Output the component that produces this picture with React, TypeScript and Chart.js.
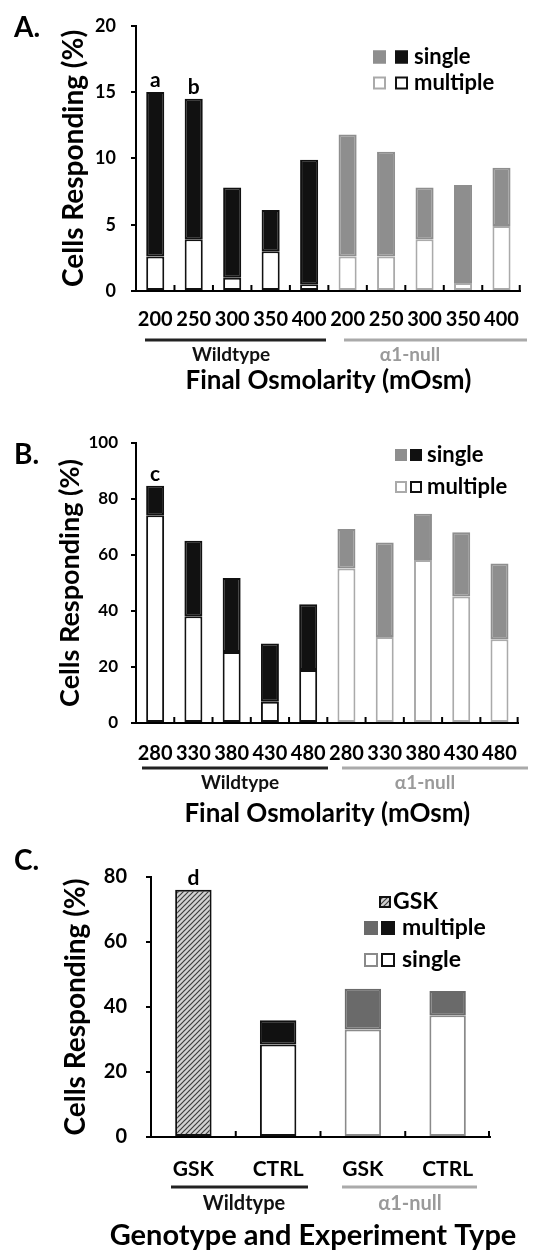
import React, { useEffect, useRef } from "react";
import { Chart, registerables } from "chart.js";

Chart.register(...registerables);

const FONT = "Lato, 'Open Sans', 'DejaVu Sans', sans-serif";

const BLACK = "#111111";
const GRAY = "#8e8e8e";
const LIGHT_GRAY = "#aaaaaa";
const DARK_GRAY = "#6a6a6a";
const WHITE = "#ffffff";

// ---------------- Data ----------------
const yTitleText = "Cells Responding (%)";

// Panel A
const aCategories = ["200", "250", "300", "350", "400", "200", "250", "300", "350", "400"];
const aSingle = [12.4, 10.6, 6.8, 3.1, 9.4, 9.2, 7.9, 3.9, 7.4, 4.4];
const aMultiple = [2.6, 3.9, 1.0, 3.0, 0.5, 2.6, 2.6, 3.9, 0.6, 4.9];
const aYMax = 20;
const aYStep = 5;
const aNotes = ["a", "b"];

// Panel B
const bCategories = ["280", "330", "380", "430", "480", "280", "330", "380", "430", "480"];
const bSingle = [10.5, 27.0, 26.4, 20.8, 23.5, 14.1, 33.8, 16.5, 22.9, 27.1];
const bMultiple = [74.2, 38.1, 25.4, 7.6, 18.9, 55.2, 30.7, 58.2, 45.2, 29.9];
const bYMax = 100;
const bYStep = 20;
const bNotes = ["c"];

// Panel C
const cCategories = ["GSK", "CTRL", "GSK", "CTRL"];
const cGsk = [76.1, null, null, null];
const cSingle = [null, 28.5, 33.1, 37.5];
const cMultiple = [null, 7.4, 12.5, 7.4];
const cYMax = 80;
const cYStep = 20;
const cNotes = ["d"];

const groupNames = ["Wildtype", "α1-null"];
const xTitleOsm = "Final Osmolarity (mOsm)";
const xTitleC = "Genotype and Experiment Type";

// ---------------- Helpers ----------------
function makePattern(ctx: CanvasRenderingContext2D): CanvasPattern | string {
  const pc = document.createElement("canvas");
  pc.width = 5;
  pc.height = 5;
  const p = pc.getContext("2d");
  if (!p) return GRAY;
  p.fillStyle = "#d2d2d2";
  p.fillRect(0, 0, 5, 5);
  p.strokeStyle = "#3c3c3c";
  p.lineWidth = 1.2;
  p.beginPath();
  p.moveTo(-1, 6);
  p.lineTo(6, -1);
  p.moveTo(-3.5, 3.5);
  p.lineTo(3.5, -3.5);
  p.moveTo(1.5, 8.5);
  p.lineTo(8.5, 1.5);
  p.stroke();
  return ctx.createPattern(pc, "repeat") || GRAY;
}

type Swatch = { x: number; size: number; fill: string; stroke: string; pattern?: boolean };
type LegendRow = { y: number; swatches: Swatch[]; textX: number; text: string };
type Group = { text: string; color: string; lineColor: string; x1: number; x2: number; lineY: number; labelX: number; labelY: number };

interface Panel {
  key: string;
  top: number;
  height: number;
  area: { left: number; right: number; top: number; bottom: number };
  categories: string[];
  makeDatasets: (pattern: CanvasPattern | string) => any[];
  yMax: number;
  yStep: number;
  yTickSize: number;
  yTickPad: number;
  yTitleSize: number;
  yTitleCenterX: number;
  xTickSize: number;
  xTickPad: number;
  xTitle: string;
  xTitleSize: number;
  xTitleFromBottom: number;
  xTitleFree?: { x: number; y: number };
  letter: { text: string; x: number; y: number };
  groups: Group[];
  groupFont: number;
  legendRows: LegendRow[];
  legendFont: number;
  notes: { dataset: number; index: number; text: string }[];
  noteFont: number;
}

const wtOrNull = (n: number, half: number, wt: string, nl: string) =>
  Array.from({ length: n }, (_, i) => (i < half ? wt : nl));

function osmDatasets(single: number[], multiple: number[], barPct: number) {
  const n = single.length;
  const half = n / 2;
  return [
    {
      label: "multiple",
      data: multiple,
      backgroundColor: WHITE,
      borderColor: wtOrNull(n, half, BLACK, LIGHT_GRAY),
      borderWidth: 2,
      borderSkipped: false,
      barPercentage: barPct,
      categoryPercentage: 1,
      stack: "s",
    },
    {
      label: "single",
      data: single,
      backgroundColor: wtOrNull(n, half, BLACK, GRAY),
      borderColor: wtOrNull(n, half, BLACK, GRAY),
      borderWidth: 2,
      borderSkipped: false,
      barPercentage: barPct,
      categoryPercentage: 1,
      stack: "s",
    },
  ];
}

const panelA: Panel = {
  key: "A",
  top: 0,
  height: 395,
  area: { left: 136, right: 534, top: 25, bottom: 291 },
  categories: aCategories,
  makeDatasets: () => osmDatasets(aSingle, aMultiple, 0.47),
  yMax: aYMax,
  yStep: aYStep,
  yTickSize: 18,
  yTickPad: 15,
  yTitleSize: 28,
  yTitleCenterX: 74,
  xTickSize: 20,
  xTickPad: 17,
  xTitle: xTitleOsm,
  xTitleSize: 26,
  xTitleFromBottom: 14,
  letter: { text: "A.", x: 14, y: 28 },
  groups: [
    { text: groupNames[0], color: "#111", lineColor: "#222", x1: 145, x2: 326, lineY: 340, labelX: 231, labelY: 355 },
    { text: groupNames[1], color: "#9a9a9a", lineColor: "#aaaaaa", x1: 344, x2: 527, lineY: 340, labelX: 410, labelY: 355 },
  ],
  groupFont: 19,
  legendRows: [
    {
      y: 57,
      swatches: [
        { x: 373, size: 13, fill: GRAY, stroke: GRAY },
        { x: 395, size: 13, fill: BLACK, stroke: BLACK },
      ],
      textX: 414,
      text: "single",
    },
    {
      y: 83,
      swatches: [
        { x: 373, size: 13, fill: WHITE, stroke: LIGHT_GRAY },
        { x: 395, size: 13, fill: WHITE, stroke: BLACK },
      ],
      textX: 414,
      text: "multiple",
    },
  ],
  legendFont: 22,
  notes: [
    { dataset: 1, index: 0, text: aNotes[0] },
    { dataset: 1, index: 1, text: aNotes[1] },
  ],
  noteFont: 21,
};

const panelB: Panel = {
  key: "B",
  top: 395,
  height: 435,
  area: { left: 136, right: 534, top: 48, bottom: 328 },
  categories: bCategories,
  makeDatasets: () => osmDatasets(bSingle, bMultiple, 0.47),
  yMax: bYMax,
  yStep: bYStep,
  yTickSize: 17,
  yTickPad: 13,
  yTitleSize: 27,
  yTitleCenterX: 70,
  xTickSize: 20,
  xTickPad: 19,
  xTitle: xTitleOsm,
  xTitleSize: 26,
  xTitleFromBottom: 16,
  letter: { text: "B.", x: 14, y: 60 },
  groups: [
    { text: groupNames[0], color: "#111", lineColor: "#222", x1: 142, x2: 328, lineY: 373, labelX: 240, labelY: 388 },
    { text: groupNames[1], color: "#9a9a9a", lineColor: "#aaaaaa", x1: 342, x2: 528, lineY: 373, labelX: 425, labelY: 388 },
  ],
  groupFont: 19,
  legendRows: [
    {
      y: 60,
      swatches: [
        { x: 395, size: 12, fill: GRAY, stroke: GRAY },
        { x: 410, size: 12, fill: BLACK, stroke: BLACK },
      ],
      textX: 427,
      text: "single",
    },
    {
      y: 92,
      swatches: [
        { x: 395, size: 12, fill: WHITE, stroke: LIGHT_GRAY },
        { x: 410, size: 12, fill: WHITE, stroke: BLACK },
      ],
      textX: 427,
      text: "multiple",
    },
  ],
  legendFont: 22,
  notes: [{ dataset: 1, index: 0, text: bNotes[0] }],
  noteFont: 21,
};

const panelC: Panel = {
  key: "C",
  top: 830,
  height: 423,
  area: { left: 151, right: 490, top: 47, bottom: 307 },
  categories: cCategories,
  makeDatasets: (pattern) => [
    {
      label: "GSK",
      data: cGsk,
      backgroundColor: pattern,
      borderColor: BLACK,
      borderWidth: 2,
      borderSkipped: false,
      barPercentage: 0.43,
      categoryPercentage: 1,
      stack: "s",
    },
    {
      label: "single",
      data: cSingle,
      backgroundColor: WHITE,
      borderColor: [BLACK, BLACK, "#8a8a8a", "#8a8a8a"],
      borderWidth: 2,
      borderSkipped: false,
      barPercentage: 0.43,
      categoryPercentage: 1,
      stack: "s",
    },
    {
      label: "multiple",
      data: cMultiple,
      backgroundColor: [BLACK, BLACK, DARK_GRAY, DARK_GRAY],
      borderColor: [BLACK, BLACK, DARK_GRAY, DARK_GRAY],
      borderWidth: 2,
      borderSkipped: false,
      barPercentage: 0.43,
      categoryPercentage: 1,
      stack: "s",
    },
  ],
  yMax: cYMax,
  yStep: cYStep,
  yTickSize: 20,
  yTickPad: 19,
  yTitleSize: 28,
  yTitleCenterX: 76,
  xTickSize: 21,
  xTickPad: 20,
  xTitle: xTitleC,
  xTitleSize: 29,
  xTitleFromBottom: 17,
  xTitleFree: { x: 313, y: 406 },
  letter: { text: "C.", x: 14, y: 31 },
  groups: [
    { text: groupNames[0], color: "#111", lineColor: "#222", x1: 171, x2: 308, lineY: 357, labelX: 244, labelY: 374 },
    { text: groupNames[1], color: "#9a9a9a", lineColor: "#aaaaaa", x1: 342, x2: 477, lineY: 357, labelX: 410, labelY: 374 },
  ],
  groupFont: 20,
  legendRows: [
    {
      y: 72,
      swatches: [{ x: 379, size: 12, fill: "", stroke: BLACK, pattern: true }],
      textX: 393,
      text: "GSK",
    },
    {
      y: 98,
      swatches: [
        { x: 364, size: 14, fill: DARK_GRAY, stroke: DARK_GRAY },
        { x: 381, size: 14, fill: BLACK, stroke: BLACK },
      ],
      textX: 402,
      text: "multiple",
    },
    {
      y: 130,
      swatches: [
        { x: 364, size: 14, fill: WHITE, stroke: "#8a8a8a" },
        { x: 381, size: 14, fill: WHITE, stroke: BLACK },
      ],
      textX: 402,
      text: "single",
    },
  ],
  legendFont: 23,
  notes: [{ dataset: 0, index: 0, text: cNotes[0] }],
  noteFont: 21,
};

const panels = [panelA, panelB, panelC];

function buildConfig(panel: Panel, pattern: CanvasPattern | string): any {
  const a = panel.area;
  const deco = {
    id: "deco" + panel.key,
    afterDraw(chart: any) {
      const ctx: CanvasRenderingContext2D = chart.ctx;
      const ca = chart.chartArea;
      const xs = chart.scales.x;
      ctx.save();
      // inward tick marks at category boundaries
      ctx.strokeStyle = "#000";
      ctx.lineWidth = 2;
      const n = panel.categories.length;
      for (let i = 1; i <= n; i++) {
        const x = i < n ? (xs.getPixelForValue(i - 1) + xs.getPixelForValue(i)) / 2 : ca.right - 1;
        ctx.beginPath();
        ctx.moveTo(x, ca.bottom);
        ctx.lineTo(x, ca.bottom - 6);
        ctx.stroke();
      }
      // panel letter
      ctx.fillStyle = "#000";
      ctx.font = `bold 28px ${FONT}`;
      ctx.textAlign = "left";
      ctx.textBaseline = "middle";
      ctx.fillText(panel.letter.text, panel.letter.x, panel.letter.y);
      // free-standing x title (wider than the plot area)
      if (panel.xTitleFree) {
        ctx.font = `bold ${panel.xTitleSize}px ${FONT}`;
        ctx.textAlign = "center";
        ctx.textBaseline = "middle";
        ctx.fillText(panel.xTitle, panel.xTitleFree.x, panel.xTitleFree.y);
      }
      // group underlines and labels
      for (const g of panel.groups) {
        ctx.strokeStyle = g.lineColor;
        ctx.lineWidth = 3;
        ctx.beginPath();
        ctx.moveTo(g.x1, g.lineY);
        ctx.lineTo(g.x2, g.lineY);
        ctx.stroke();
        ctx.fillStyle = g.color;
        ctx.font = `bold ${panel.groupFont}px ${FONT}`;
        ctx.textAlign = "center";
        ctx.textBaseline = "middle";
        ctx.fillText(g.text, g.labelX, g.labelY);
      }
      // significance letters
      for (const nt of panel.notes) {
        const el = chart.getDatasetMeta(nt.dataset).data[nt.index];
        if (!el) continue;
        ctx.fillStyle = "#000";
        ctx.font = `bold ${panel.noteFont}px ${FONT}`;
        ctx.textAlign = "center";
        ctx.textBaseline = "bottom";
        ctx.fillText(nt.text, el.x, el.y - 1);
      }
      // legend
      for (const row of panel.legendRows) {
        for (const s of row.swatches) {
          const y0 = row.y - s.size / 2;
          ctx.fillStyle = s.pattern ? (pattern as any) : s.fill;
          ctx.fillRect(s.x, y0, s.size, s.size);
          ctx.strokeStyle = s.stroke;
          ctx.lineWidth = 2;
          ctx.strokeRect(s.x + 1, y0 + 1, s.size - 2, s.size - 2);
        }
        ctx.fillStyle = "#000";
        ctx.font = `bold ${panel.legendFont}px ${FONT}`;
        ctx.textAlign = "left";
        ctx.textBaseline = "middle";
        ctx.fillText(row.text, row.textX, row.y);
      }
      ctx.restore();
    },
  };

  return {
    type: "bar",
    data: { labels: panel.categories, datasets: panel.makeDatasets(pattern) },
    options: {
      responsive: false,
      animation: false,
      layout: { padding: { top: a.top, left: 0, right: 536 - a.right, bottom: 0 } },
      plugins: { legend: { display: false }, tooltip: { enabled: false } },
      scales: {
        x: {
          stacked: true,
          offset: true,
          grid: { display: false, drawTicks: false },
          border: { display: true, color: "#000", width: 2 },
          ticks: {
            color: "#000",
            font: { family: FONT, size: panel.xTickSize, weight: "bold" },
            padding: panel.xTickPad,
            autoSkip: false,
            maxRotation: 0,
          },
          title: {
            display: !panel.xTitleFree,
            text: panel.xTitle,
            color: "#000",
            font: { family: FONT, size: panel.xTitleSize, weight: "bold", lineHeight: 1 },
            padding: { top: 0, bottom: Math.max(0, panel.xTitleFromBottom - panel.xTitleSize / 2) },
          },
          afterFit: (s: any) => {
            s.height = panel.height - a.bottom;
          },
        },
        y: {
          stacked: true,
          min: 0,
          max: panel.yMax,
          ticks: {
            stepSize: panel.yStep,
            color: "#000",
            font: { family: FONT, size: panel.yTickSize, weight: "bold" },
            padding: panel.yTickPad,
          },
          grid: { drawOnChartArea: false, drawTicks: true, tickLength: 5, color: "#000", lineWidth: 2 },
          border: { display: true, color: "#000", width: 2 },
          title: {
            display: true,
            text: yTitleText,
            color: "#000",
            font: { family: FONT, size: panel.yTitleSize, weight: "bold", lineHeight: 1 },
            padding: { top: panel.yTitleCenterX - panel.yTitleSize / 2, bottom: 0 },
          },
          afterFit: (s: any) => {
            s.width = a.left;
          },
        },
      },
    },
    plugins: [deco],
  };
}

function PanelChart({ panel }: { panel: Panel }) {
  const ref = useRef<HTMLCanvasElement | null>(null);
  useEffect(() => {
    const canvas = ref.current;
    if (!canvas) return;
    const ctx = canvas.getContext("2d");
    if (!ctx) return;
    const pattern = makePattern(ctx);
    const chart = new Chart(canvas, buildConfig(panel, pattern));
    return () => chart.destroy();
  }, [panel]);
  return (
    <canvas
      ref={ref}
      width={536}
      height={panel.height}
      style={{ position: "absolute", left: 0, top: panel.top, width: 536, height: panel.height, display: "block" }}
    />
  );
}

export default function App() {
  return (
    <div style={{ position: "absolute", left: 0, top: 0, width: 536, height: 1253, background: "#fff", overflow: "hidden" }}>
      {panels.map((p) => (
        <PanelChart key={p.key} panel={p} />
      ))}
    </div>
  );
}
